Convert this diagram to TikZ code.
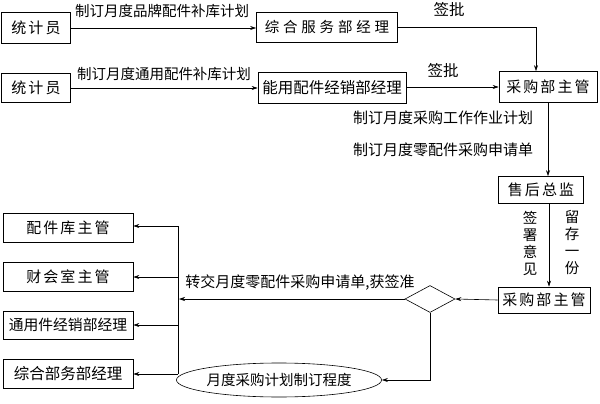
\documentclass[tikz,border=0pt]{standalone}
\usepackage{fontspec}
\newfontfamily\cjk{Noto Sans CJK SC}
\newfontfamily\cjkwide[LetterSpace=26]{Noto Sans CJK SC}
\newfontfamily\cjkmid[LetterSpace=14]{Noto Sans CJK SC}
\usetikzlibrary{shapes.geometric,arrows.meta}
\begin{document}
\begin{tikzpicture}[x=1pt,y=-1pt,
  box/.style={draw, line width=0.6pt, inner sep=0pt, font=\cjkmid\fontsize{15}{15}\selectfont},
  lbl/.style={inner sep=0pt, font=\cjk\fontsize{14.5}{14.5}\selectfont},
  vlbl/.style={inner sep=0pt, align=center, font=\cjk\fontsize{14.5}{17}\selectfont},
  arr/.style={-{Stealth[length=6pt,width=4pt]}, line width=0.6pt},
  ln/.style={line width=0.6pt}]
\useasboundingbox (0,0) rectangle (600,404);

% top row
\node[box, minimum width=69pt, minimum height=31pt] (s1) at (36,28) {统计员};
\node[box, minimum width=141pt, minimum height=30pt, font=\cjkwide\fontsize{14.5}{14.5}\selectfont] (z1) at (327,27) {综合服务部经理};
\node[box, minimum width=69pt, minimum height=29pt] (s2) at (36,88) {统计员};
\node[box, minimum width=148pt, minimum height=31pt, font=\cjk\fontsize{15.5}{15.5}\selectfont] (n2) at (332,88) {能用配件经销部经理};
\node[box, minimum width=98pt, minimum height=31pt] (c1) at (548,87) {采购部主管};
\node[box, minimum width=85pt, minimum height=27pt] (h1) at (541,190) {售后总监};
\node[box, minimum width=92pt, minimum height=26pt] (c2) at (544,300) {采购部主管};
\node[draw, diamond, line width=0.6pt, inner sep=0pt, minimum width=50pt, minimum height=27pt] (d) at (430,299) {};
\node[draw, ellipse, line width=0.6pt, inner sep=0pt, minimum width=168pt, minimum height=34pt, font=\cjk\fontsize{14.5}{14.5}\selectfont] (e) at (279,380) {月度采购计划制订程度};

% left column
\node[box, minimum width=130pt, minimum height=29pt] (L1) at (68,228) {配件库主管};
\node[box, minimum width=130pt, minimum height=29pt] (L2) at (68,277) {财会室主管};
\node[box, minimum width=130pt, minimum height=28pt, font=\cjk\fontsize{14.8}{14.8}\selectfont] (L3) at (68,325) {通用件经销部经理};
\node[box, minimum width=130pt, minimum height=29pt, font=\cjk\fontsize{15.5}{15.5}\selectfont] (L4) at (68,374) {综合部务部经理};

% bus coordinates
\coordinate (bt) at (178,226);
\coordinate (bb) at (178,374);
\coordinate (bm) at (179,299);

% connectors
\draw[arr] (s1.east) -- (s1.east -| z1.west);
\draw[arr] (z1.east) -| ([xshift=-12pt]c1.north);
\draw[arr] (s2.east) -- (s2.east -| n2.west);
\draw[arr] (n2.east |- c1.west) -- (c1.west);
\draw[arr] (c1.south) -- (c1.south |- h1.north);
\draw[arr] ([xshift=8pt]h1.south) -- ([xshift=8pt]h1.south |- c2.north);
\draw[arr] (c2.west) -- (d.east);
\draw[arr] (d.west) -- (bm);
\draw[ln] (bt) -- (bb);
\draw[arr] (bt) -- (bt -| L1.east);
\draw[arr] (bt |- L2.east) -- (L2.east);
\draw[arr] (bt |- L3.east) -- (L3.east);
\draw[arr] (bb) -- (bb -| L4.east);
\draw[arr] (d.south) |- (e.east);

% labels
\node[lbl] (t1) at (162,11) {制订月度品牌配件补库计划};
\node[lbl] (t2) at (164,74) {制订月度通用配件补库计划};
\node[lbl, font=\cjk\fontsize{15.5}{15.5}\selectfont] (t3) at (449,10) {签批};
\node[lbl, font=\cjk\fontsize{15.5}{15.5}\selectfont] (t4) at (443,71) {签批};
\node[lbl, font=\cjk\fontsize{15}{15}\selectfont] (t5) at (443,118) {制订月度采购工作作业计划};
\node[lbl, font=\cjk\fontsize{15}{15}\selectfont] (t6) at (443,150) {制订月度零配件采购申请单};
\node[vlbl] (t7) at (530,243) {签\\署\\意\\见};
\node[vlbl] (t8) at (572,243) {留\\存\\一\\份};
\node[lbl, font=\cjk\fontsize{15}{15}\selectfont] (t9) at (300,283) {转交月度零配件采购申请单,获签准};
\end{tikzpicture}
\end{document}
